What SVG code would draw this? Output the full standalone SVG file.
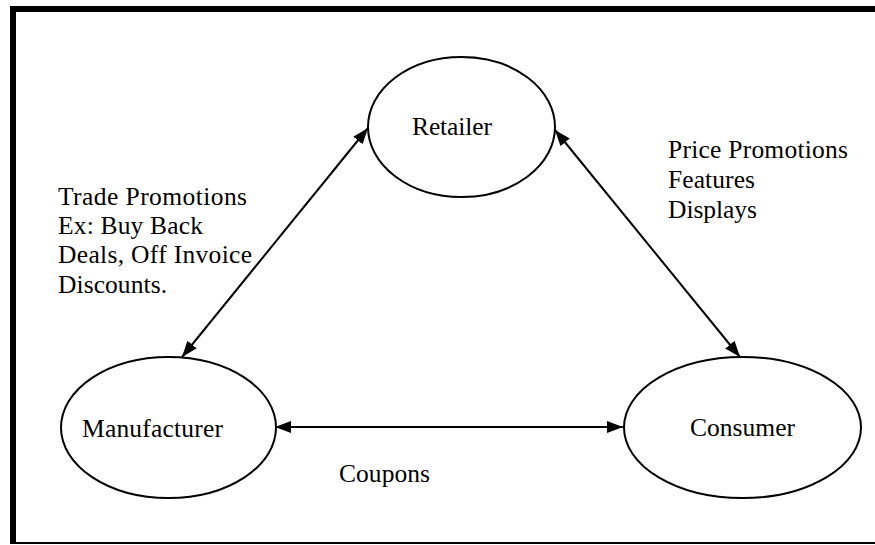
<svg xmlns="http://www.w3.org/2000/svg" width="875" height="545" viewBox="0 0 875 545">
  <style>
    .node { fill: #fff; stroke: #000; stroke-width: 2; }
    .lbl { font-family: "Liberation Serif", "Times New Roman", serif; font-size: 25.5px; fill: #000; }
    .edge { stroke: #000; stroke-width: 2; fill: none; marker-start: url(#ah); marker-end: url(#ah); }
  </style>
  <defs>
    <marker id="ah" viewBox="0 0 16 12" refX="16" refY="6" markerWidth="16" markerHeight="12" markerUnits="userSpaceOnUse" orient="auto-start-reverse">
      <path d="M0,0 L16,6 L0,12 Z" fill="#000"/>
    </marker>
  </defs>
  <rect x="0" y="0" width="875" height="545" fill="#fff"/>
  <g id="frame">
    <rect x="10" y="6" width="6" height="538" fill="#000"/>
    <rect x="10" y="6" width="865" height="6" fill="#000"/>
    <rect x="10" y="542" width="865" height="2" fill="#000"/>
  </g>
  <g id="connectors">
    <line class="edge" x1="182" y1="357" x2="368" y2="128"/>
    <line class="edge" x1="555" y1="130" x2="740" y2="357"/>
    <line class="edge" x1="275" y1="427" x2="623" y2="427"/>
  </g>
  <g id="retailer">
    <ellipse class="node" cx="461.5" cy="127" rx="93.5" ry="70"/>
    <text class="lbl" x="412" y="135" textLength="80" lengthAdjust="spacing">Retailer</text>
  </g>
  <g id="manufacturer">
    <ellipse class="node" cx="168.5" cy="427.5" rx="107.5" ry="70.5"/>
    <text class="lbl" x="82" y="437" textLength="141" lengthAdjust="spacing">Manufacturer</text>
  </g>
  <g id="consumer">
    <ellipse class="node" cx="742.5" cy="427.5" rx="118.5" ry="70.5"/>
    <text class="lbl" x="690" y="436" textLength="105" lengthAdjust="spacing">Consumer</text>
  </g>
  <g id="labels">
    <text class="lbl" x="58" y="205" textLength="189" lengthAdjust="spacing">Trade Promotions</text>
    <text class="lbl" x="58" y="234" textLength="145" lengthAdjust="spacing">Ex: Buy Back</text>
    <text class="lbl" x="58" y="263" textLength="194" lengthAdjust="spacing">Deals, Off Invoice</text>
    <text class="lbl" x="58" y="293" textLength="109" lengthAdjust="spacing">Discounts.</text>
    <text class="lbl" x="668" y="158" textLength="180" lengthAdjust="spacing">Price Promotions</text>
    <text class="lbl" x="668" y="188" textLength="87" lengthAdjust="spacing">Features</text>
    <text class="lbl" x="668" y="218" textLength="89" lengthAdjust="spacing">Displays</text>
    <text class="lbl" x="339" y="482" textLength="91" lengthAdjust="spacing">Coupons</text>
  </g>
</svg>
